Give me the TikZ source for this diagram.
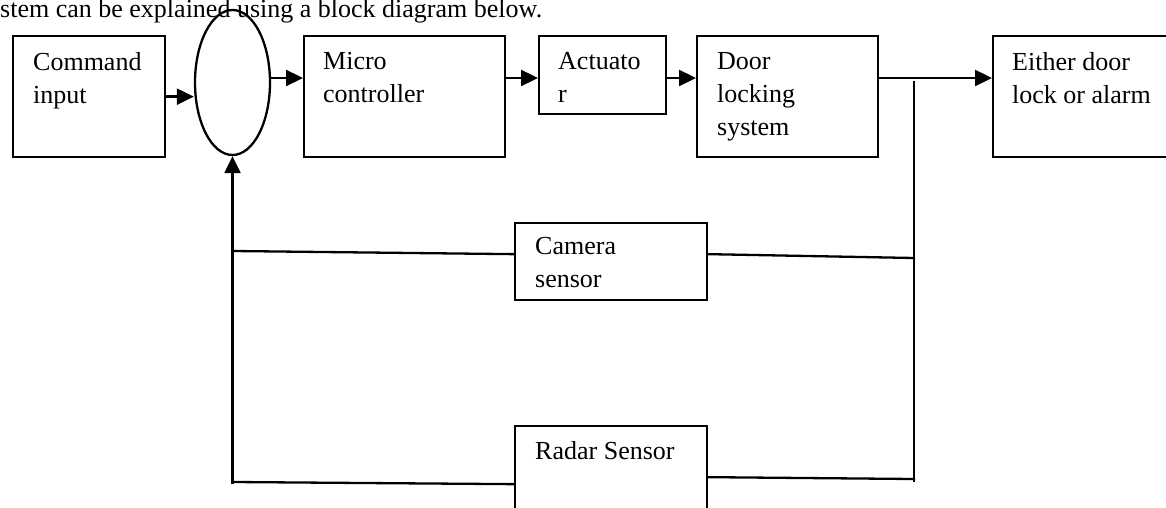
\documentclass[tikz,border=0pt]{standalone}
\usepackage{fontspec}
\setmainfont{Liberation Serif}
\usetikzlibrary{arrows.meta,shapes.geometric}
\tikzset{
  ln/.style={line width=2.3pt, line cap=rect},
  arr/.style={line width=2.3pt, -{Triangle[length=17pt,width=16pt]}},
  blk/.style={draw, line width=2.3pt, rectangle, anchor=north west, inner sep=0pt},
  lbl/.style={anchor=north west, inner sep=0pt, align=left, font=\fontsize{26}{33}\selectfont},
}
\begin{document}
\begin{tikzpicture}[x=1pt,y=-1pt]
\useasboundingbox[fill=white] (0,0) rectangle (1166,508);
\clip (0,0) rectangle (1166,508);
% header
\node[anchor=base west, inner sep=0pt, font=\fontsize{26}{33}\selectfont] (hdr) at (0,18) {stem can be explained using a block diagram below.};
% blocks
\node[blk, minimum width=152pt, minimum height=121pt] (cmd) at (12,35) {};
\node[lbl] (cmdt) at (33,52) {Command\\input};
\node[draw, ellipse, line width=2.3pt, minimum width=75pt, minimum height=145pt, inner sep=0pt] (ell) at (232.5,82.5) {};
\node[blk, minimum width=201pt, minimum height=121pt] (mic) at (303,35) {};
\node[lbl] (mict) at (323,52) {Micro\\controller};
\node[blk, minimum width=127pt, minimum height=78pt] (act) at (538,35) {};
\node[lbl] (actt) at (558,52) {Actuato\\r};
\node[blk, minimum width=181pt, minimum height=121pt] (door) at (696,35) {};
\node[lbl] (doort) at (717,52) {Door\\locking\\system};
\node[blk, minimum width=200pt, minimum height=121pt] (eith) at (992,35) {};
\node[lbl] (eitht) at (1012,52) {Either door\\lock or alarm};
\node[blk, minimum width=192pt, minimum height=77pt] (cam) at (514,222) {};
\node[lbl] (camt) at (535,237) {Camera\\sensor};
\node[blk, minimum width=192pt, minimum height=116pt] (rad) at (514,425) {};
\node[lbl] (radt) at (535,441) {Radar Sensor};
% coordinates
\coordinate (row) at (0,78);
\coordinate (vT) at (914,82);
\coordinate (vB) at (914,481);
\coordinate (cL) at (233,251);
\coordinate (cR) at (914,258);
\coordinate (rL) at (233,481);
\coordinate (rR) at (914,479);
% forward path
\draw[arr] (cmd.east) -- (cmd.east -| ell.west);
\draw[arr] (ell.east |- row) -- (mic.west |- row);
\draw[arr] (mic.east |- row) -- (act.west |- row);
\draw[arr] (act.east |- row) -- (door.west |- row);
\draw[arr] (door.east |- row) -- (eith.west |- row);
% feedback
\draw[ln] (vT) -- (vB);
\draw[ln] (cL) -- ([yshift=7.5pt]cam.west);
\draw[ln] ([yshift=7.5pt]cam.east) -- (cR);
\draw[ln] ([yshift=-1pt]rL) -- (rad.west);
\draw[ln] ([yshift=7pt]rad.east) -- (rR);
\draw[arr] ([yshift=-3pt]ell.south |- rL) -- (ell.south);
\end{tikzpicture}
\end{document}
